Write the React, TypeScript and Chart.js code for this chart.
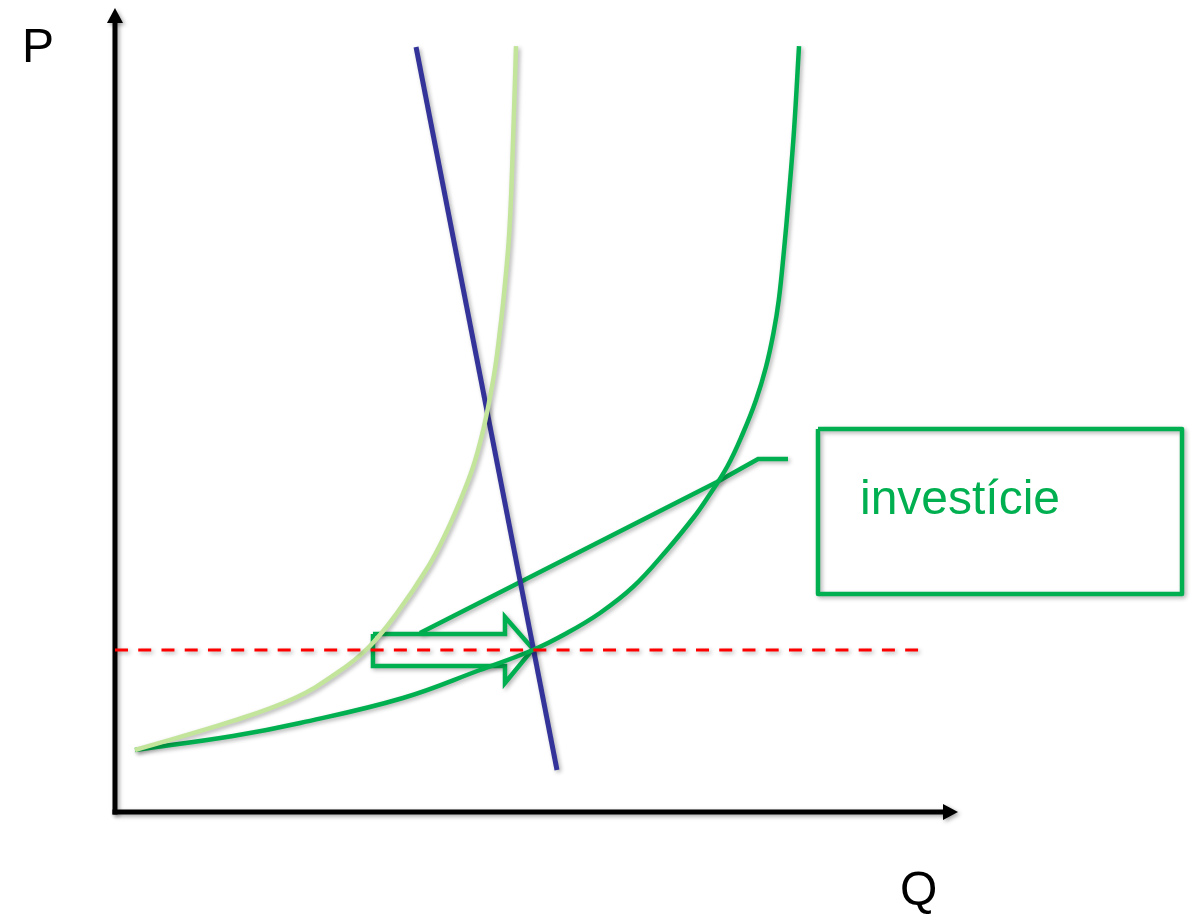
import React, { useEffect, useRef } from "react";
import { Chart, registerables } from "chart.js";

Chart.register(...registerables);

// Axis ranges (Q horizontal, P vertical), axes drawn from 0 to 100
const AXIS_Q = [0, 100];
const AXIS_P = [0, 100];

// Short-run supply (light green)
const lightQ = [2.37, 14.0, 21.35, 26.33, 30.01, 33.45, 37.13, 39.26, 40.98, 42.47, 43.59, 44.42, 45.11, 45.63, 46.11, 46.79, 47.26, 47.57];
const lightP = [7.71, 11.32, 14.18, 17.29, 20.4, 24.75, 30.47, 34.7, 38.81, 42.91, 47.14, 51.24, 55.35, 59.58, 64.05, 72.39, 84.83, 95.27];

// Long-run supply after investment (green)
const darkQ = [2.37, 14.0, 21.95, 34.16, 43.3, 49.58, 53.62, 57.53, 61.45, 65.48, 68.68, 70.11, 72.6, 74.5, 76.04, 77.22, 78.11, 78.74, 79.36, 79.89, 80.55, 81.14];
const darkP = [7.71, 9.45, 11.07, 14.18, 17.66, 20.15, 22.26, 24.75, 27.99, 32.59, 36.69, 38.81, 42.91, 47.14, 51.24, 55.35, 59.58, 63.68, 69.9, 76.12, 84.83, 95.27];

// Demand (blue)
const demandQ = [35.71, 52.43];
const demandP = [95.15, 5.22];

// Price level (red dashed)
const priceQ = [0, 95.26];
const priceP = [20.15, 20.15];

// Shift arrow outline
const arrowQ = [30.6, 46.26, 46.26, 49.58, 46.26, 46.26, 30.6, 30.6];
const arrowP = [22.14, 22.14, 24.25, 20.27, 16.04, 18.16, 18.16, 22.14];

// Callout leader
const leaderQ = [36.18, 71.41, 76.28, 79.83];
const leaderP = [22.26, 41.04, 43.91, 43.91];

// Callout box
const boxQ = [83.39, 126.57, 126.57, 83.39, 83.39];
const boxP = [47.64, 47.64, 27.11, 27.11, 47.64];

// Texts
const labels = [
  { text: "P", q: -11.03, p: 93.28, color: "#000000" },
  { text: "Q", q: 93.12, p: -11.57, color: "#000000" },
  { text: "investície", q: 88.37, p: 37.06, color: "#00B050" },
];

const pts = (qs: number[], ps: number[]) => qs.map((q, i) => ({ x: q, y: ps[i] }));

const GREEN = "#00B050";
const LIGHT = "#C3E59B";
const BLUE = "#333399";
const RED = "#FF0000";

export default function App() {
  const ref = useRef<HTMLCanvasElement | null>(null);

  useEffect(() => {
    document.body.style.margin = "0";
    const canvas = ref.current;
    if (!canvas) return;

    const shadowPlugin = {
      id: "shadow",
      beforeDatasetDraw(chart: any) {
        const ctx = chart.ctx;
        ctx.save();
        ctx.shadowColor = "rgba(0,0,0,0.3)";
        ctx.shadowBlur = 4;
        ctx.shadowOffsetX = 2;
        ctx.shadowOffsetY = 2;
      },
      afterDatasetDraw(chart: any) {
        chart.ctx.restore();
      },
    };

    const decorPlugin = {
      id: "decor",
      beforeDatasetsDraw(chart: any) {
        const ctx = chart.ctx;
        const xs = chart.scales.x;
        const ys = chart.scales.y;
        const x0 = xs.getPixelForValue(AXIS_Q[0]);
        const x1 = xs.getPixelForValue(AXIS_Q[1]);
        const y0 = ys.getPixelForValue(AXIS_P[0]);
        const y1 = ys.getPixelForValue(AXIS_P[1]);
        ctx.save();
        ctx.shadowColor = "rgba(0,0,0,0.35)";
        ctx.shadowBlur = 4;
        ctx.shadowOffsetX = 2;
        ctx.shadowOffsetY = 2;
        ctx.strokeStyle = "#000";
        ctx.fillStyle = "#000";
        ctx.lineWidth = 5;
        ctx.lineCap = "butt";
        // y axis
        ctx.beginPath();
        ctx.moveTo(x0, y0 + 2.5);
        ctx.lineTo(x0, y1 + 12);
        ctx.stroke();
        ctx.beginPath();
        ctx.moveTo(x0, y1);
        ctx.lineTo(x0 - 8, y1 + 15);
        ctx.lineTo(x0 + 8, y1 + 15);
        ctx.closePath();
        ctx.fill();
        // x axis
        ctx.beginPath();
        ctx.moveTo(x0 - 2.5, y0);
        ctx.lineTo(x1 - 12, y0);
        ctx.stroke();
        ctx.beginPath();
        ctx.moveTo(x1, y0);
        ctx.lineTo(x1 - 15, y0 - 8);
        ctx.lineTo(x1 - 15, y0 + 8);
        ctx.closePath();
        ctx.fill();
        ctx.restore();
      },
      afterDatasetsDraw(chart: any) {
        const ctx = chart.ctx;
        const xs = chart.scales.x;
        const ys = chart.scales.y;
        ctx.save();
        ctx.font = '48px "Liberation Sans", Arial, sans-serif';
        ctx.textAlign = "left";
        ctx.textBaseline = "alphabetic";
        labels.forEach((l) => {
          ctx.fillStyle = l.color;
          ctx.fillText(l.text, xs.getPixelForValue(l.q), ys.getPixelForValue(l.p));
        });
        ctx.restore();
      },
    };

    const base = { pointRadius: 0, pointHoverRadius: 0, fill: false };

    const chart = new Chart(canvas, {
      type: "line",
      data: {
        datasets: [
          { ...base, data: pts(priceQ, priceP), borderColor: RED, borderWidth: 3, borderDash: [13, 10.24], tension: 0 },
          { ...base, data: pts(lightQ, lightP), borderColor: LIGHT, borderWidth: 4.5, tension: 0.4 },
          { ...base, data: pts(darkQ, darkP), borderColor: GREEN, borderWidth: 4.5, tension: 0.4 },
          { ...base, data: pts(demandQ, demandP), borderColor: BLUE, borderWidth: 5, tension: 0 },
          { ...base, data: pts(arrowQ, arrowP), borderColor: GREEN, borderWidth: 4.5, tension: 0, borderJoinStyle: "miter" },
          { ...base, data: pts(leaderQ, leaderP), borderColor: GREEN, borderWidth: 4.5, tension: 0, borderJoinStyle: "miter" },
          { ...base, data: pts(boxQ, boxP), borderColor: GREEN, borderWidth: 4.5, tension: 0, borderJoinStyle: "round" },
        ] as any,
      },
      options: {
        animation: false,
        responsive: false,
        devicePixelRatio: 1,
        layout: { padding: 0 },
        plugins: { legend: { display: false }, tooltip: { enabled: false }, title: { display: false } },
        events: [],
        scales: {
          x: { type: "linear", min: -13.64, max: 128.11, display: false },
          y: { type: "linear", min: -12.94, max: 101.0, display: false },
        },
      } as any,
      plugins: [shadowPlugin, decorPlugin],
    });

    return () => chart.destroy();
  }, []);

  return (
    <div style={{ position: "absolute", left: 0, top: 0, width: 1195, height: 916, background: "#fff" }}>
      <canvas ref={ref} width={1195} height={916} style={{ width: 1195, height: 916, display: "block" }} />
    </div>
  );
}
